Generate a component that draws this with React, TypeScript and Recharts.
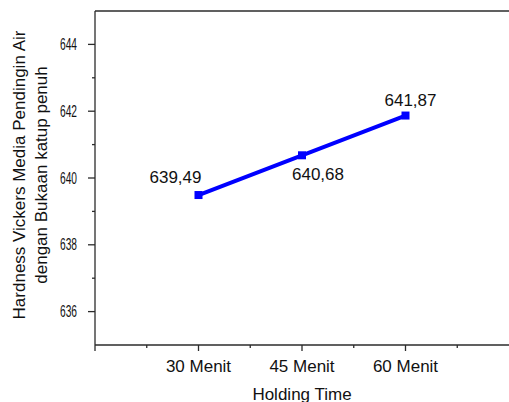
import { LineChart, Line, XAxis, YAxis, ReferenceLine, LabelList, Label } from 'recharts'

const categories = ['30 Menit', '45 Menit', '60 Menit']
const hardness = [639.49, 640.68, 641.87]
const valueLabels = ['639,49', '640,68', '641,87']
const xTicks = [0, 0.5, 1, 1.5, 2, 2.5, 3, 3.5]
const yTicks = [636, 637, 638, 639, 640, 641, 642, 643, 644]

const data = categories.map((name, i) => ({ x: i + 1, name, hardness: hardness[i] }))

const AXIS = '#2b2b2b'
const FONT = '"Liberation Sans", Arial, sans-serif'

// label offsets relative to each point (dx = center, dy = baseline)
const labelOffsets = [
  { dx: -23, dy: -12 },
  { dx: 16, dy: 25 },
  { dx: 5, dy: -10 },
]

function XTick(props: any) {
  const { x, y, payload } = props
  const v = payload.value
  const major = Number.isInteger(v)
  const name = major && v >= 1 && v <= categories.length ? categories[v - 1] : ''
  return (
    <g>
      <line x1={x} x2={x} y1={y} y2={y + (major ? 6 : 3)} stroke={AXIS} strokeWidth={1.3} />
      {name && (
        <text x={x} y={y + 27} textAnchor="middle" fontSize={17} fill="#111" fontFamily={FONT}>
          {name}
        </text>
      )}
    </g>
  )
}

function YTick(props: any) {
  const { x, y, payload } = props
  const v = payload.value
  const major = v % 2 === 0
  return (
    <g>
      <line x1={x} x2={x - (major ? 7 : 3)} y1={y} y2={y} stroke={AXIS} strokeWidth={1.3} />
      {major && (
        <text
          x={x - 35}
          y={y + 5.6}
          textLength={17}
          lengthAdjust="spacingAndGlyphs"
          fontSize={16}
          fill="#111"
          fontFamily={FONT}
        >
          {String(v)}
        </text>
      )}
    </g>
  )
}

export default function App() {
  return (
    <div style={{ position: 'absolute', left: 0, top: 0 }}>
      <LineChart width={509} height={402} data={data} margin={{ top: 11, right: 0, bottom: 0, left: 0 }}>
        <XAxis
          dataKey="x"
          type="number"
          domain={[0, 4]}
          ticks={xTicks}
          interval={0}
          height={57}
          tickSize={0}
          tickMargin={0}
          tickLine={false}
          tick={(p: any) => <XTick {...p} />}
          stroke={AXIS}
          strokeWidth={1.3}
        >
          <Label
            content={(p: any) => {
              const vb = p.viewBox
              return (
                <text x={vb.x + vb.width / 2} y={400} textAnchor="middle" fontSize={17} fill="#111" fontFamily={FONT}>
                  Holding Time
                </text>
              )
            }}
          />
        </XAxis>
        <YAxis
          type="number"
          domain={[635, 645]}
          ticks={yTicks}
          interval={0}
          width={95}
          tickSize={0}
          tickMargin={0}
          tickLine={false}
          tick={(p: any) => <YTick {...p} />}
          stroke={AXIS}
          strokeWidth={1.3}
        >
          <Label
            content={(p: any) => {
              const vb = p.viewBox
              const cy = vb.y + vb.height / 2 - 3
              return (
                <g>
                  <text
                    transform={`translate(25,${cy}) rotate(-90)`}
                    textAnchor="middle"
                    fontSize={17}
                    fill="#111"
                    fontFamily={FONT}
                  >
                    Hardness Vickers Media Pendingin Air
                  </text>
                  <text
                    transform={`translate(47,${cy}) rotate(-90)`}
                    textAnchor="middle"
                    fontSize={17}
                    fill="#111"
                    fontFamily={FONT}
                  >
                    dengan Bukaan katup penuh
                  </text>
                </g>
              )
            }}
          />
        </YAxis>
        <ReferenceLine y={645} stroke={AXIS} strokeWidth={1.3} />
        <Line
          dataKey="hardness"
          type="linear"
          stroke="#0000ff"
          strokeWidth={4}
          isAnimationActive={false}
          dot={(p: any) => (
            <rect key={`d${p.index}`} x={p.cx - 4} y={p.cy - 4} width={8} height={8} fill="#0000ff" />
          )}
          activeDot={false}
        >
          <LabelList
            dataKey="hardness"
            content={(p: any) => {
              const off = labelOffsets[p.index] || { dx: 0, dy: -10 }
              return (
                <text
                  x={p.x + off.dx}
                  y={p.y + off.dy}
                  textAnchor="middle"
                  fontSize={17}
                  fill="#111"
                  fontFamily={FONT}
                >
                  {valueLabels[p.index]}
                </text>
              )
            }}
          />
        </Line>
      </LineChart>
    </div>
  )
}
